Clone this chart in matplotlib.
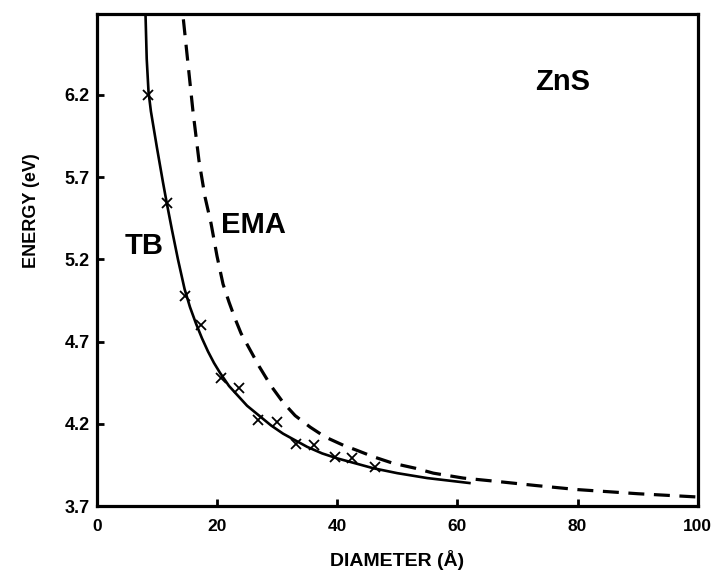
import matplotlib
matplotlib.use("Agg")
import matplotlib.pyplot as plt

plt.rcParams['font.family'] = ['Liberation Sans', 'DejaVu Sans']
plt.rcParams['font.weight'] = 'bold'

# tight-binding points (x markers)
tb_d = [8.5, 11.6, 14.6, 17.4, 20.6, 23.6, 26.8, 29.9, 33.2, 36.2, 39.7, 42.4, 46.3]
tb_e = [6.20, 5.54, 4.98, 4.80, 4.48, 4.42, 4.225, 4.21, 4.08, 4.07, 4.00, 3.99, 3.94]

# TB fitted curve (solid)
fit_d = [8.1, 8.3, 8.6, 9.0, 10.0, 11.0, 11.6, 12.5, 13.5, 14.6, 15.5, 16.5, 17.5, 18.5, 19.5,
         20.5, 22.0, 23.5, 25.0, 27.0, 29.0, 31.0, 33.0, 35.0, 37.5, 40.0, 43.0, 46.0,
         50.0, 55.0, 62.0]
fit_e = [6.69, 6.42, 6.22, 6.10, 5.88, 5.67, 5.55, 5.38, 5.20, 5.02, 4.91, 4.81, 4.72, 4.64, 4.57,
         4.51, 4.43, 4.37, 4.31, 4.25, 4.19, 4.14, 4.10, 4.06, 4.02, 3.99, 3.96, 3.93,
         3.90, 3.87, 3.84]

# effective mass approximation (dashed)
ema_d = [14.4, 15.0, 16.0, 17.0, 18.0, 19.0, 20.0, 21.0, 22.0, 23.0, 24.0, 25.5, 27.0,
         29.0, 31.0, 33.0, 35.5, 38.0, 41.0, 43.2, 46.0, 49.3, 53.0, 56.0, 61.0, 66.5,
         73.0, 80.0, 90.0, 100.0]
ema_e = [6.66, 6.45, 6.10, 5.80, 5.58, 5.42, 5.22, 5.05, 4.94, 4.84, 4.75, 4.65, 4.55,
         4.43, 4.33, 4.25, 4.18, 4.12, 4.07, 4.04, 4.00, 3.96, 3.93, 3.90, 3.87, 3.85,
         3.825, 3.80, 3.775, 3.755]

yticks = [3.7, 4.2, 4.7, 5.2, 5.7, 6.2]
xticks = [0, 20, 40, 60, 80, 100]

fig = plt.figure(figsize=(7.12, 5.79), dpi=100)
ax = fig.add_axes([0.136, 0.126, 0.844, 0.85])

ax.plot(fit_d, fit_e, color='black', lw=1.9)
ax.plot(ema_d, ema_e, color='black', lw=2.3, dashes=(5, 3))
ax.plot(tb_d, tb_e, 'x', color='black', ms=7, mew=1.3)

ax.text(7.9, 5.28, 'TB', fontsize=21, fontweight='bold', ha='center', va='center')
ax.text(26.1, 5.41, 'EMA', fontsize=21, fontweight='bold', ha='center', va='center')
ax.text(77.5, 6.28, 'ZnS', fontsize=21, fontweight='bold', ha='center', va='center')

ax.set_xlim(0, 100)
ax.set_ylim(3.7, 6.693)
ax.set_xticks(xticks)
ax.set_yticks(yticks)
ax.set_yticklabels([f'{v:.1f}' for v in yticks])
ax.tick_params(direction='in', length=5, width=2, labelsize=13)
ax.tick_params(axis='x', pad=9, labelsize=12.5)
ax.tick_params(axis='y', pad=5)
for s in ax.spines.values():
    s.set_linewidth(2.3)

ax.set_xlabel('DIAMETER (Å)', fontsize=14, fontweight='bold', labelpad=12)
ax.set_ylabel('ENERGY (eV)', fontsize=13, fontweight='bold', labelpad=10)
ax.yaxis.set_label_coords(-0.095, 0.6)

fig.savefig('out.png', dpi=100)
